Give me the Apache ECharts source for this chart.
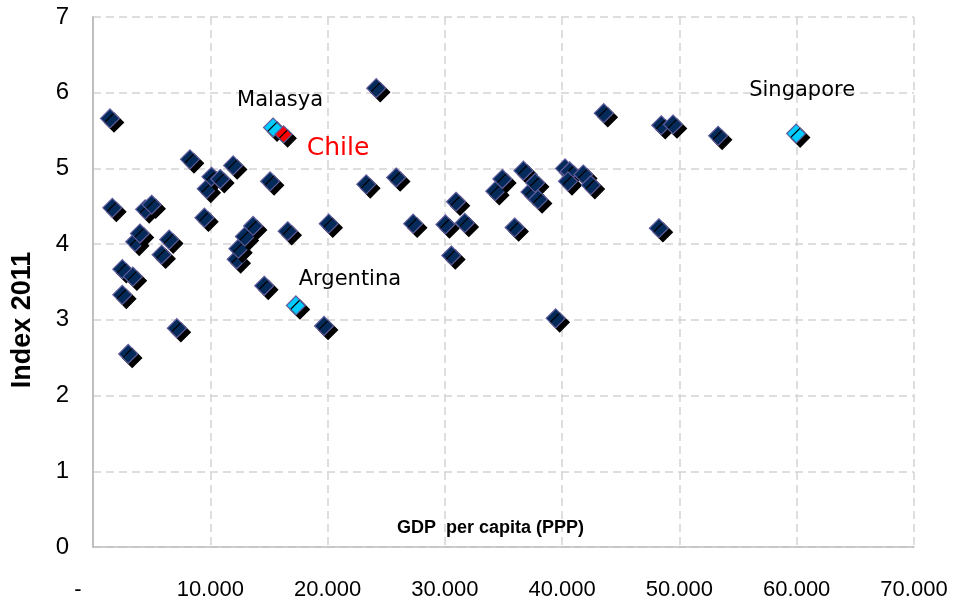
<!DOCTYPE html>
<html>
<head>
<meta charset="utf-8">
<script src="https://cdn.jsdelivr.net/npm/echarts@6/dist/echarts.min.js"></script>
<style>
  html, body { margin: 0; padding: 0; background: #ffffff; }
  #chart { width: 960px; height: 613px; }
</style>
</head>
<body>
<div id="chart"></div>
<script>
// GDP per capita (PPP) vs Index 2011
var gdpValues = [1450, 1650, 2500, 2500, 3000, 3400, 3600, 4000, 4450, 5000,
  5850, 6500, 7150, 8270, 9500, 9700, 10100, 10850, 11950, 12250,
  12400, 12950, 13650, 14600, 15100, 16600, 19700, 20100, 23300, 24150,
  25850, 27300, 30050, 30550, 30950, 31700, 34300, 34900, 35950, 36700,
  37300, 37700, 37950, 39450, 40250, 40650, 40500, 41800, 42450, 43550,
  48250, 48450, 49450, 53300];
var indexValues = [5.66, 4.48, 3.67, 3.33, 2.55, 3.57, 4.03, 4.14, 4.46, 4.52,
  3.86, 4.06, 2.89, 5.12, 4.35, 4.73, 4.89, 4.86, 5.04, 3.80,
  3.94, 4.10, 4.24, 3.45, 4.83, 4.17, 2.92, 4.27, 4.79, 6.06,
  4.88, 4.27, 4.26, 3.85, 4.56, 4.28, 4.70, 4.86, 4.22, 4.97,
  4.69, 4.81, 4.59, 3.02, 5.00, 4.96, 4.83, 4.92, 4.78, 5.73,
  4.21, 5.57, 5.58, 5.43];

// paises destacados
var highlightNames = ['Malasya', 'Argentina', 'Singapore'];
var highlightGdp = [15350, 17300, 59950];
var highlightIndex = [5.54, 3.19, 5.46];

var chileName = 'Chile';
var chileGdp = 16250;
var chileIndex = 5.45;

var xTicks = [0, 10000, 20000, 30000, 40000, 50000, 60000, 70000];
var yTicks = [0, 1, 2, 3, 4, 5, 6, 7];

function formatoMiles(v) {
    if (v === 0) return '{dash|-}';
    return String(v).replace(/\B(?=(\d{3})+(?!\d))/g, '.');
}

var baseStyle = {
    color: '#042a5a',
    opacity: 1,
    borderColor: '#5f5c9e',
    borderWidth: 1.2,
    shadowColor: '#000000',
    shadowBlur: 0,
    shadowOffsetX: 4,
    shadowOffsetY: 4
};

// posicion de cada etiqueta respecto a su punto
var labelPlacement = {
    'Malasya': { position: 'top', distance: 6, offset: [7, 0] },
    'Argentina': { position: 'top', distance: 5, offset: [54, 0] },
    'Singapore': { position: 'top', distance: 22, offset: [6, 0] }
};

var regularData = gdpValues.map(function (g, i) { return [g, indexValues[i]]; });

var highlightData = highlightNames.map(function (name, i) {
    var p = labelPlacement[name];
    return {
        name: name,
        value: [highlightGdp[i], highlightIndex[i]],
        label: {
            show: true,
            formatter: name,
            position: p.position,
            distance: p.distance,
            offset: p.offset,
            color: '#000000',
            opacity: 1,
            textBorderWidth: 0,
            fontFamily: 'DejaVu Sans',
            fontSize: 21
        }
    };
});

var chart = echarts.init(document.getElementById('chart'));

chart.setOption({
    animation: false,
    backgroundColor: '#ffffff',
    grid: { left: 93, right: 46, top: 17, bottom: 66, containLabel: false },
    xAxis: {
        type: 'value',
        min: xTicks[0],
        max: xTicks[xTicks.length - 1],
        interval: 10000,
        name: 'GDP  per capita (PPP)',
        nameLocation: 'middle',
        nameGap: -28,
        nameTextStyle: {
            fontFamily: 'Liberation Sans',
            fontWeight: 'bold',
            fontSize: 18,
            color: '#000000',
            padding: [0, 26, 0, 0]
        },
        axisLine: { show: true, lineStyle: { color: '#bfbfbf', width: 1.5 } },
        axisTick: { show: false },
        splitLine: { show: true, lineStyle: { color: '#d4d4d4', type: [8, 5], width: 1.5 } },
        axisLabel: {
            margin: 32,
            fontFamily: 'Liberation Sans',
            fontSize: 22,
            color: '#000000',
            formatter: formatoMiles,
            rich: {
                dash: { fontFamily: 'Liberation Sans', fontSize: 22, color: '#000000', padding: [0, 30, 0, 0] }
            }
        }
    },
    yAxis: {
        type: 'value',
        min: yTicks[0],
        max: yTicks[yTicks.length - 1],
        interval: 1,
        name: 'Index 2011',
        nameLocation: 'middle',
        nameGap: 57,
        nameTextStyle: {
            fontFamily: 'Liberation Sans',
            fontWeight: 'bold',
            fontSize: 27,
            color: '#000000',
            padding: [0, 76, 0, 0]
        },
        axisLine: { show: true, lineStyle: { color: '#bfbfbf', width: 2 } },
        axisTick: { show: false },
        splitLine: { show: true, lineStyle: { color: '#d4d4d4', type: [8, 5], width: 1.5 } },
        axisLabel: {
            margin: 24,
            fontFamily: 'Liberation Sans',
            fontSize: 24,
            color: '#000000'
        }
    },
    series: [
        {
            name: 'Paises',
            type: 'scatter',
            symbol: 'diamond',
            symbolSize: 19,
            data: regularData,
            itemStyle: baseStyle
        },
        {
            name: 'Destacados',
            type: 'scatter',
            symbol: 'diamond',
            symbolSize: 19,
            data: highlightData,
            itemStyle: Object.assign({}, baseStyle, { color: '#00ccff' })
        },
        {
            name: chileName,
            type: 'scatter',
            symbol: 'diamond',
            symbolSize: 17,
            data: [{
                name: chileName,
                value: [chileGdp, chileIndex],
                label: {
                    show: true,
                    formatter: chileName,
                    position: 'right',
                    distance: 14,
                    offset: [0, 14],
                    color: '#ff0000',
                    opacity: 1,
                    textBorderWidth: 0,
                    fontFamily: 'DejaVu Sans',
                    fontSize: 25
                }
            }],
            itemStyle: Object.assign({}, baseStyle, { color: '#ff0000' })
        }
    ]
});
</script>
</body>
</html>
